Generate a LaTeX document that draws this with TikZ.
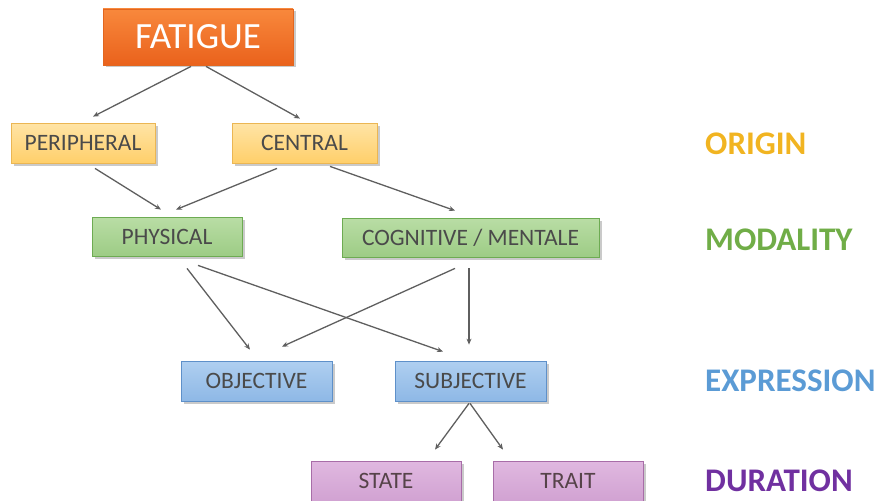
\documentclass[tikz,border=0pt]{standalone}
\usepackage{fontspec}
\setmainfont{Carlito}
\usetikzlibrary{arrows.meta,shadows}

\definecolor{orangeTop}{HTML}{F8883C}
\definecolor{orangeBot}{HTML}{EA621C}
\definecolor{orangeLine}{HTML}{E2661F}
\definecolor{yelTop}{HTML}{FFE4A6}
\definecolor{yelBot}{HTML}{FFCF6A}
\definecolor{yelLine}{HTML}{EBB653}
\definecolor{grnTop}{HTML}{B9DDA5}
\definecolor{grnBot}{HTML}{9DCC85}
\definecolor{grnLine}{HTML}{6DAB52}
\definecolor{bluTop}{HTML}{AFCFF0}
\definecolor{bluBot}{HTML}{8EB8E6}
\definecolor{bluLine}{HTML}{5E90C9}
\definecolor{purTop}{HTML}{E0B8E0}
\definecolor{purBot}{HTML}{D1A2D2}
\definecolor{purLine}{HTML}{A86DA8}
\definecolor{boxText}{HTML}{4A4A4A}
\definecolor{arrowGray}{HTML}{5F5F5F}
\definecolor{originCol}{HTML}{F1B421}
\definecolor{modalityCol}{HTML}{70AD47}
\definecolor{expressionCol}{HTML}{5B9BD5}
\definecolor{durationCol}{HTML}{7030A0}

\tikzset{
  box/.style={draw, line width=0.8pt, inner sep=0pt, text=boxText,
    font=\fontsize{23.5}{28}\selectfont,
    drop shadow={shadow xshift=2.5pt, shadow yshift=-2.5pt, opacity=0.35, fill=black!60}},
  topbox/.style={box, draw=orangeLine, top color=orangeTop, bottom color=orangeBot,
    text=white, font=\fontsize{37}{42}\selectfont},
  originbox/.style={box, draw=yelLine, top color=yelTop, bottom color=yelBot},
  modalbox/.style={box, draw=grnLine, top color=grnTop, bottom color=grnBot},
  exprbox/.style={box, draw=bluLine, top color=bluTop, bottom color=bluBot},
  durbox/.style={box, draw=purLine, top color=purTop, bottom color=purBot, text=boxText!90!purple},
  rowlabel/.style={anchor=west, inner sep=0pt, font=\fontsize{33}{38}\selectfont\bfseries},
  link/.style={draw=arrowGray, line width=1.3pt, -{Stealth[length=6pt,width=5pt]}}
}

\begin{document}
\begin{tikzpicture}[x=1pt, y=-1pt]
  \useasboundingbox (0,0) rectangle (877,500);

  % hierarchy boxes
  \node[topbox,    minimum width=190pt, minimum height=56pt] (fat) at (198,37)    {FATIGUE};
  \node[originbox, minimum width=144pt, minimum height=40pt] (per) at (83,143)    {PERIPHERAL};
  \node[originbox, minimum width=145pt, minimum height=40pt] (cen) at (304.5,143) {CENTRAL};
  \node[modalbox,  minimum width=150pt, minimum height=39pt] (phy) at (167,236.5) {PHYSICAL};
  \node[modalbox,  minimum width=257pt, minimum height=39pt] (cog) at (470.5,237.5) {COGNITIVE / MENTALE};
  \node[exprbox,   minimum width=151pt, minimum height=40pt] (obj) at (256.5,381) {OBJECTIVE};
  \node[exprbox,   minimum width=151pt, minimum height=40pt] (sub) at (470.5,381) {SUBJECTIVE};
  \node[durbox,    minimum width=150pt, minimum height=40pt] (sta) at (386,481)   {STATE};
  \node[durbox,    minimum width=150pt, minimum height=40pt] (tra) at (568,481)   {TRAIT};

  % row labels
  \node[rowlabel, text=originCol]     (lorigin) at (705,144) {ORIGIN};
  \node[rowlabel, text=modalityCol]   (lmodal)  at (705,240) {MODALITY};
  \node[rowlabel, text=expressionCol] (lexpr)   at (705,381) {EXPRESSION};
  \node[rowlabel, text=durationCol]   (ldur)    at (705,481) {DURATION};

  % connectors
  \draw[link] ([shift={(-7,1)}]fat.south)    -- ([shift={(10,-6)}]per.north);
  \draw[link] ([shift={(8,1)}]fat.south)     -- ([shift={(-4.5,-4)}]cen.north);
  \draw[link] ([shift={(12,5)}]per.south)    -- ([shift={(-6,-7)}]phy.north);
  \draw[link] ([shift={(-27.5,5)}]cen.south) -- ([shift={(9,-7)}]phy.north);
  \draw[link] ([shift={(25.5,3)}]cen.south)  -- ([shift={(-15.5,-7)}]cog.north);
  \draw[link] ([shift={(20,12)}]phy.south)   -- ([shift={(-6.5,-11)}]obj.north);
  \draw[link] ([shift={(31,9)}]phy.south)    -- ([shift={(-27.5,-9)}]sub.north);
  \draw[link] ([shift={(-15.5,11)}]cog.south) -- ([shift={(25.5,-14)}]obj.north);
  \draw[link] ([shift={(-1.5,11)}]cog.south) -- ([shift={(-1.5,-16)}]sub.north);
  \draw[link] ([shift={(-1.5,2)}]sub.south)  -- ([shift={(49,-11)}]sta.north);
  \draw[link] ([shift={(-0.5,2)}]sub.south)  -- ([shift={(-65,-11)}]tra.north);
\end{tikzpicture}
\end{document}
